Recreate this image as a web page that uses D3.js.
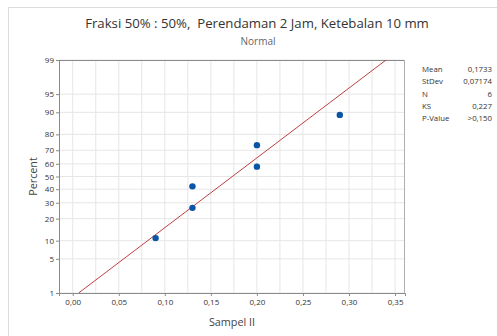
<!DOCTYPE html>
<html>
<head>
<meta charset="utf-8">
<script src="https://cdn.jsdelivr.net/npm/d3@7"></script>
<style>
  body { margin: 0; background: #fff; }
  text { font-family: "Open Sans", "Noto Sans", sans-serif; }
</style>
</head>
<body>
<div id="chart"></div>
<script>
// data
const samples = [0.09, 0.13, 0.13, 0.20, 0.20, 0.29];
const percentTicks = [1, 5, 10, 20, 30, 40, 50, 60, 70, 80, 90, 95, 99];
const xTicks = [0, 0.05, 0.10, 0.15, 0.20, 0.25, 0.30, 0.35];
const statNames = ["Mean", "StDev", "N", "KS", "P-Value"];
const statValues = ["0,1733", "0,07174", "6", "0,227", ">0,150"];
const fitMean = 0.1733, fitSd = 0.07174;

const W = 497, H = 336;
const margin = {top: 60, right: 92, bottom: 43, left: 59},
      width = W - margin.left - margin.right,
      height = H - margin.top - margin.bottom;

// inverse normal cdf (Acklam)
function probit(p) {
  const a = [-39.69683028665376, 220.9460984245205, -275.9285104469687, 138.3577518672690, -30.66479806614716, 2.506628277459239];
  const b = [-54.47609879822406, 161.5858368580409, -155.6989798598866, 66.80131188771972, -13.28068155288572];
  const c = [-0.007784894002430293, -0.3223964580411365, -2.400758277161838, -2.549732539343734, 4.374664141464968, 2.938163982698783];
  const d = [0.007784695709041462, 0.3224671290700398, 2.445134137142996, 3.754408661907416];
  const pl = 0.02425;
  let q, r;
  if (p < pl) {
    q = Math.sqrt(-2 * Math.log(p));
    return (((((c[0]*q+c[1])*q+c[2])*q+c[3])*q+c[4])*q+c[5]) / ((((d[0]*q+d[1])*q+d[2])*q+d[3])*q+1);
  } else if (p <= 1 - pl) {
    q = p - 0.5; r = q*q;
    return (((((a[0]*r+a[1])*r+a[2])*r+a[3])*r+a[4])*r+a[5])*q / (((((b[0]*r+b[1])*r+b[2])*r+b[3])*r+b[4])*r+1);
  } else {
    q = Math.sqrt(-2 * Math.log(1 - p));
    return -(((((c[0]*q+c[1])*q+c[2])*q+c[3])*q+c[4])*q+c[5]) / ((((d[0]*q+d[1])*q+d[2])*q+d[3])*q+1);
  }
}

const svg = d3.select("#chart")
  .append("svg")
  .attr("width", W)
  .attr("height", H);

// outer frame
svg.append("rect")
  .attr("x", 8.5).attr("y", 7.5)
  .attr("width", W).attr("height", H)
  .attr("fill", "none").attr("stroke", "#dcdcdc");

// titles
svg.append("text")
  .attr("x", 257).attr("y", 28)
  .attr("text-anchor", "middle")
  .style("font-size", "13.2px").style("fill", "#333")
  .style("white-space", "pre")
  .text("Fraksi 50% : 50%,  Perendaman 2 Jam, Ketebalan 10 mm");
svg.append("text")
  .attr("x", 258).attr("y", 45)
  .attr("text-anchor", "middle")
  .style("font-size", "10px").style("fill", "#666")
  .text("Normal");

const g = svg.append("g")
  .attr("transform", `translate(${margin.left},${margin.top})`);

// scales
const x = d3.scaleLinear()
  .domain([-0.0149, 0.3608])
  .range([0, width]);
const zMax = probit(0.99);
const y = d3.scaleLinear()
  .domain([-zMax, zMax])
  .range([height, 0]);
const yp = p => y(probit(p / 100));

// grid
const gridX = d3.range(0, 0.36, 0.025);
g.append("g").selectAll("line")
  .data(gridX)
  .join("line")
  .attr("x1", d => x(d)).attr("x2", d => x(d))
  .attr("y1", 0).attr("y2", height)
  .attr("stroke", "#e6e6e6");
g.append("g").selectAll("line")
  .data(percentTicks)
  .join("line")
  .attr("x1", 0).attr("x2", width)
  .attr("y1", d => yp(d)).attr("y2", d => yp(d))
  .attr("stroke", "#e6e6e6");

// plot frame
g.append("line").attr("x1", 0).attr("x2", width).attr("y1", 0.5).attr("y2", 0.5).attr("stroke", "#8a8a8a");
g.append("line").attr("x1", width - 0.5).attr("x2", width - 0.5).attr("y1", 0).attr("y2", height).attr("stroke", "#b0b0b0");

// axes
const xAxis = g.append("g")
  .attr("transform", `translate(0,${height})`)
  .call(d3.axisBottom(x).tickValues(xTicks).tickSize(3).tickPadding(3)
    .tickFormat(d => d3.format(".2f")(d).replace(".", ",")));
const yAxis = g.append("g")
  .call(d3.axisLeft(y).tickValues(percentTicks.map(p => probit(p / 100)))
    .tickSize(3).tickPadding(2)
    .tickFormat((d, i) => percentTicks[i]));
[xAxis, yAxis].forEach(a => {
  a.select(".domain").attr("stroke", "#8a8a8a");
  a.selectAll(".tick line").attr("stroke", "#8a8a8a");
  a.selectAll("text").style("font-size", "8px").style("fill", "#333")
    .style("font-family", "'Open Sans', 'Noto Sans', sans-serif");
});

// fitted line
const clip = g.append("clipPath").attr("id", "clip")
  .append("rect").attr("width", width).attr("height", height);
const lineP = [1, 99];
g.append("path")
  .datum(lineP)
  .attr("clip-path", "url(#clip)")
  .attr("fill", "none")
  .attr("stroke", "#b52a2a")
  .attr("stroke-width", 0.9)
  .attr("d", d3.line()
    .x(p => x(fitMean + fitSd * probit(p / 100)))
    .y(p => yp(p)));

// points with median ranks
const n = samples.length;
const pts = samples.map((v, i) => ({v: v, p: (i + 1 - 0.3) / (n + 0.4)}));
g.append("g").selectAll("circle")
  .data(pts)
  .join("circle")
  .attr("cx", d => x(d.v))
  .attr("cy", d => y(probit(d.p)))
  .attr("r", 3.2)
  .attr("fill", "#0a55a5");

// axis titles
svg.append("text")
  .attr("transform", `translate(37,${margin.top + height / 2}) rotate(-90)`)
  .attr("text-anchor", "middle")
  .style("font-size", "10.8px").style("fill", "#444")
  .text("Percent");
svg.append("text")
  .attr("x", margin.left + width / 2).attr("y", 326)
  .attr("text-anchor", "middle")
  .style("font-size", "10.8px").style("fill", "#444")
  .text("Sampel II");

// stats table
const st = svg.append("g");
st.selectAll("text.name")
  .data(statNames)
  .join("text")
  .attr("class", "name")
  .attr("x", 422).attr("y", (d, i) => 72 + i * 12.3)
  .style("font-size", "7.8px").style("fill", "#333")
  .text(d => d);
st.selectAll("text.val")
  .data(statValues)
  .join("text")
  .attr("class", "val")
  .attr("x", 492).attr("y", (d, i) => 72 + i * 12.3)
  .attr("text-anchor", "end")
  .style("font-size", "7.8px").style("fill", "#333")
  .text(d => d);
</script>
</body>
</html>
